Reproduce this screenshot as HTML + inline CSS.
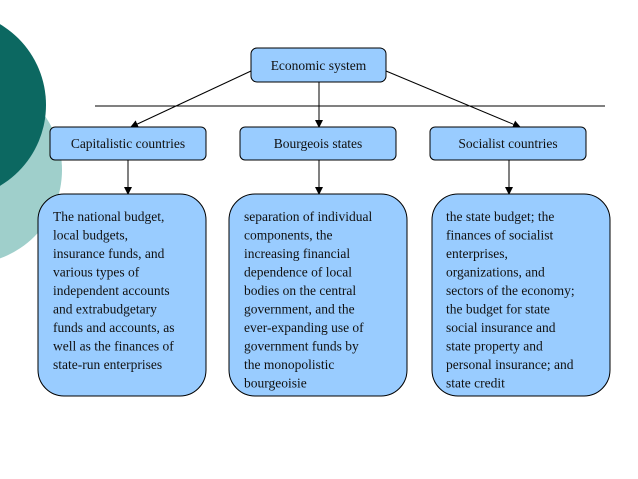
<!DOCTYPE html>
<html><head><meta charset="utf-8"><style>
html,body{margin:0;padding:0;background:#fff;}
svg{display:block;}
text{font-family:"Liberation Serif",serif;font-size:13.5px;fill:#111;}
</style></head><body>
<svg width="638" height="479" viewBox="0 0 638 479" xmlns="http://www.w3.org/2000/svg">
<defs><marker id="a" markerWidth="8" markerHeight="8" refX="7" refY="4" orient="auto" markerUnits="userSpaceOnUse"><path d="M0,0 L8,4 L0,8 z" fill="#000"/></marker></defs>
<circle cx="-32" cy="170" r="94" fill="#9fcfcb"/>
<circle cx="-48" cy="105" r="94" fill="#0c6861"/>
<line x1="95" y1="106" x2="605" y2="106" stroke="#000" stroke-width="1"/>
<rect x="251" y="48" width="135" height="34" rx="6" fill="#99ccff" stroke="#000"/>
<text x="318.5" y="70" text-anchor="middle">Economic system</text>
<line x1="251" y1="71" x2="131" y2="127" stroke="#000" marker-end="url(#a)"/>
<line x1="319" y1="82" x2="319" y2="127" stroke="#000" marker-end="url(#a)"/>
<line x1="386" y1="71" x2="520" y2="127" stroke="#000" marker-end="url(#a)"/>
<rect x="50" y="127" width="156" height="33" rx="5" fill="#99ccff" stroke="#000"/>
<text x="128" y="148" text-anchor="middle">Capitalistic countries</text>
<rect x="240" y="127" width="156" height="33" rx="5" fill="#99ccff" stroke="#000"/>
<text x="318" y="148" text-anchor="middle">Bourgeois states</text>
<rect x="430" y="127" width="156" height="33" rx="5" fill="#99ccff" stroke="#000"/>
<text x="508" y="148" text-anchor="middle">Socialist countries</text>
<line x1="128" y1="160" x2="128" y2="194" stroke="#000" marker-end="url(#a)"/>
<line x1="319" y1="160" x2="319" y2="194" stroke="#000" marker-end="url(#a)"/>
<line x1="509" y1="160" x2="509" y2="194" stroke="#000" marker-end="url(#a)"/>
<rect x="38" y="194" width="168" height="202" rx="26" fill="#99ccff" stroke="#000"/>
<rect x="229" y="194" width="178" height="202" rx="26" fill="#99ccff" stroke="#000"/>
<rect x="432" y="194" width="178" height="202" rx="26" fill="#99ccff" stroke="#000"/>
<text x="53" y="221">
<tspan x="53" dy="0">The national budget,</tspan>
<tspan x="53" dy="18.5">local budgets,</tspan>
<tspan x="53" dy="18.5">insurance funds, and</tspan>
<tspan x="53" dy="18.5">various types of</tspan>
<tspan x="53" dy="18.5">independent accounts</tspan>
<tspan x="53" dy="18.5">and extrabudgetary</tspan>
<tspan x="53" dy="18.5">funds and accounts, as</tspan>
<tspan x="53" dy="18.5">well as the finances of</tspan>
<tspan x="53" dy="18.5">state-run enterprises</tspan>
</text>
<text x="244" y="221">
<tspan x="244" dy="0">separation of individual</tspan>
<tspan x="244" dy="18.5">components, the</tspan>
<tspan x="244" dy="18.5">increasing financial</tspan>
<tspan x="244" dy="18.5">dependence of local</tspan>
<tspan x="244" dy="18.5">bodies on the central</tspan>
<tspan x="244" dy="18.5">government, and the</tspan>
<tspan x="244" dy="18.5">ever-expanding use of</tspan>
<tspan x="244" dy="18.5">government funds by</tspan>
<tspan x="244" dy="18.5">the monopolistic</tspan>
<tspan x="244" dy="18.5">bourgeoisie</tspan>
</text>
<text x="446" y="221">
<tspan x="446" dy="0">the state budget; the</tspan>
<tspan x="446" dy="18.5">finances of socialist</tspan>
<tspan x="446" dy="18.5">enterprises,</tspan>
<tspan x="446" dy="18.5">organizations, and</tspan>
<tspan x="446" dy="18.5">sectors of the economy;</tspan>
<tspan x="446" dy="18.5">the budget for state</tspan>
<tspan x="446" dy="18.5">social insurance and</tspan>
<tspan x="446" dy="18.5">state property and</tspan>
<tspan x="446" dy="18.5">personal insurance; and</tspan>
<tspan x="446" dy="18.5">state credit</tspan>
</text>
</svg>
</body></html>
